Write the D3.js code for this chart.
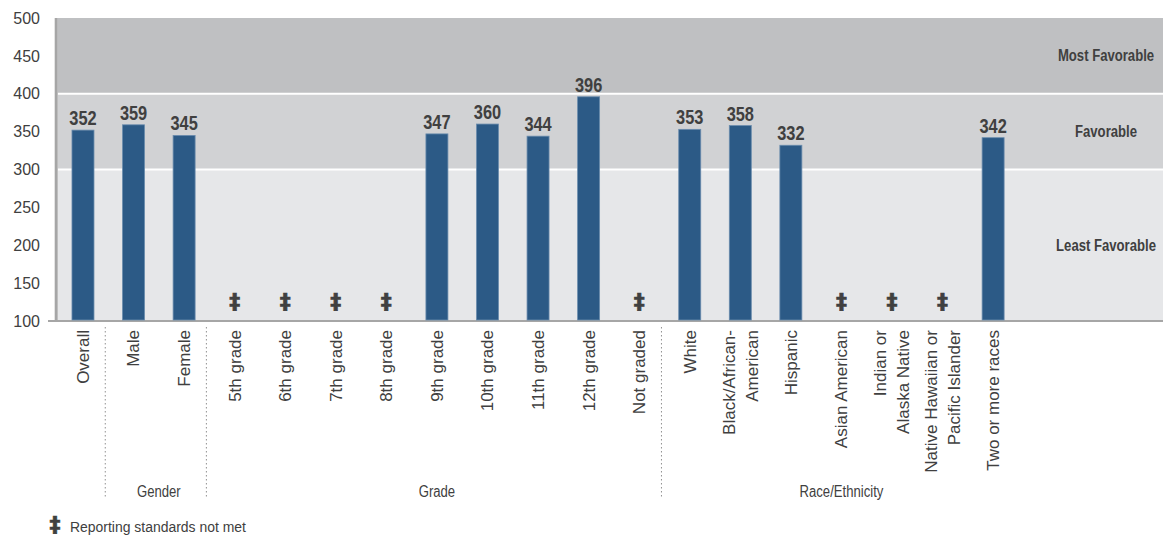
<!DOCTYPE html>
<html>
<head>
<meta charset="utf-8">
<script src="https://cdn.jsdelivr.net/npm/d3@7"></script>
<style>
  body { margin: 0; background: #fff; }
  text { fill: #404040; }
</style>
</head>
<body>
<div class="chart"></div>
<script>
// categories (label lines) and scores, null = reporting standards not met
const categories = [
  ['Overall'], ['Male'], ['Female'],
  ['5th grade'], ['6th grade'], ['7th grade'], ['8th grade'], ['9th grade'],
  ['10th grade'], ['11th grade'], ['12th grade'], ['Not graded'],
  ['White'], ['Black/African-', 'American'], ['Hispanic'], ['Asian American'],
  ['Indian or', 'Alaska Native'], ['Native Hawaiian or', 'Pacific Islander'],
  ['Two or more races']
];
const scores = [352, 359, 345, null, null, null, null, 347, 360, 344, 396, null,
  353, 358, 332, null, null, null, 342];

const groups = [
  { name: 'Gender', first: 1, last: 2 },
  { name: 'Grade', first: 3, last: 11 },
  { name: 'Race/Ethnicity', first: 12, last: 18 }
];

const bands = [
  { name: 'Least Favorable', from: 100, to: 300, color: '#e6e7e9' },
  { name: 'Favorable', from: 300, to: 400, color: '#d1d2d4' },
  { name: 'Most Favorable', from: 400, to: 500, color: '#bfc0c2' }
];

const yTicks = [100, 150, 200, 250, 300, 350, 400, 450, 500];

const W = 1163, H = 537;
const plot = { left: 57.7, right: 1163, top: 18, bottom: 321, barsEnd: 1018.4 };
const sans = '"Liberation Sans", Arial, sans-serif';
const squeeze = 0.82; // fake a condensed face

const svg = d3.select('.chart')
  .append('svg')
    .attr('width', W)
    .attr('height', H);

const x = d3.scaleBand()
  .domain(d3.range(categories.length))
  .range([plot.left, plot.barsEnd])
  .padding(0);

const y = d3.scaleLinear()
  .domain([100, 500])
  .range([plot.bottom, plot.top]);

// text helper, optionally squeezed horizontally
function label(sel, px, py, sx) {
  return sel.attr('transform', (d, i) => {
    const tx = typeof px === 'function' ? px(d, i) : px;
    const ty = typeof py === 'function' ? py(d, i) : py;
    return `translate(${tx}, ${ty}) scale(${sx || 1}, 1)`;
  });
}

// background bands
svg.selectAll('.band')
  .data(bands)
  .enter()
  .append('rect')
    .attr('x', plot.left)
    .attr('y', d => y(d.to))
    .attr('width', plot.right - plot.left)
    .attr('height', d => y(d.from) - y(d.to))
    .style('fill', d => d.color);

// white separators between bands
svg.selectAll('.band-sep')
  .data([300, 400])
  .enter()
  .append('line')
    .attr('x1', plot.left)
    .attr('x2', plot.right)
    .attr('y1', d => y(d))
    .attr('y2', d => y(d))
    .style('stroke', '#fff')
    .style('stroke-width', 2);

svg.selectAll('.band-label')
  .data(bands)
  .enter()
  .append('text')
    .call(label, 1106, d => (y(d.from) + y(d.to)) / 2, squeeze)
    .attr('dy', '0.35em')
    .attr('text-anchor', 'middle')
    .style('font-family', sans)
    .style('font-weight', 'bold')
    .style('font-size', '16px')
    .text(d => d.name);

// y axis
svg.append('g')
    .attr('transform', 'translate(44, 0)')
    .call(d3.axisLeft(y).tickValues(yTicks).tickSize(0).tickPadding(4))
    .call(g => g.select('.domain').remove())
    .selectAll('text')
      .style('font-family', sans)
      .style('font-size', '16px')
      .style('fill', '#404040');

// axis lines
svg.append('line')
    .attr('x1', plot.left - 1.5).attr('x2', plot.left - 1.5)
    .attr('y1', plot.top).attr('y2', plot.bottom)
    .style('stroke', '#a6a6a6')
    .style('stroke-width', 3);

svg.append('line')
    .attr('x1', 48).attr('x2', plot.right)
    .attr('y1', plot.bottom).attr('y2', plot.bottom)
    .style('stroke', '#a6a6a6')
    .style('stroke-width', 2);

// bars
const barW = 22;
const cx = i => x(i) + x.bandwidth() / 2;
const rows = scores.map((v, i) => ({ i, v }));

svg.selectAll('.bar')
  .data(rows.filter(d => d.v !== null))
  .enter()
  .append('rect')
    .attr('x', d => cx(d.i) - barW / 2)
    .attr('y', d => y(d.v))
    .attr('width', barW)
    .attr('height', d => y(100) - y(d.v) - 1)
    .style('fill', '#2c5a86')
    .style('stroke', '#6a8cad')
    .style('stroke-width', 0.8);

svg.selectAll('.value')
  .data(rows.filter(d => d.v !== null))
  .enter()
  .append('text')
    .call(label, d => cx(d.i), d => y(d.v) - 5, squeeze)
    .attr('text-anchor', 'middle')
    .style('font-family', sans)
    .style('font-weight', 'bold')
    .style('font-size', '20px')
    .text(d => d.v);

// markers for suppressed values
const dagger = (sel) => sel
    .attr('text-anchor', 'middle')
    .style('font-family', '"DejaVu Sans", sans-serif')
    .style('font-weight', 'bold')
    .style('font-size', '22px')
    .style('stroke', '#404040')
    .style('stroke-width', 0.6)
    .text('\u2021');

svg.selectAll('.na')
  .data(rows.filter(d => d.v === null))
  .enter()
  .append('text')
    .attr('x', d => cx(d.i))
    .attr('y', 309)
    .call(dagger);

// category labels, rotated
const labels = svg.selectAll('.cat')
  .data(categories)
  .enter()
  .append('text')
    .attr('transform', (d, i) => `translate(${cx(i)}, 330) rotate(-90)`)
    .attr('text-anchor', 'end')
    .style('font-family', sans)
    .style('font-size', '17px');

labels.selectAll('tspan')
  .data(d => d.map((line, k) => ({ line, k, n: d.length })))
  .enter()
  .append('tspan')
    .attr('x', 0)
    .attr('y', d => (d.k - (d.n - 1) / 2) * 23)
    .attr('dy', '0.35em')
    .text(d => d.line);

// group separators and names
svg.selectAll('.sep')
  .data([1, 3, 12])
  .enter()
  .append('line')
    .attr('x1', d => x(d) - 3).attr('x2', d => x(d) - 3)
    .attr('y1', 327).attr('y2', 498)
    .style('stroke', '#909090')
    .style('stroke-width', 1)
    .style('stroke-dasharray', '1.5,2.5');

svg.selectAll('.group')
  .data(groups)
  .enter()
  .append('text')
    .call(label, d => (cx(d.first) + cx(d.last)) / 2, 491, squeeze)
    .attr('dy', '0.35em')
    .attr('text-anchor', 'middle')
    .style('font-family', sans)
    .style('font-size', '16px')
    .text(d => d.name);

// legend
svg.append('text')
    .attr('x', 55)
    .attr('y', 532)
    .call(dagger);

svg.append('text')
    .call(label, 70, 527, 0.9)
    .attr('dy', '0.35em')
    .style('font-family', sans)
    .style('font-size', '15.5px')
    .text('Reporting standards not met');
</script>
</body>
</html>
